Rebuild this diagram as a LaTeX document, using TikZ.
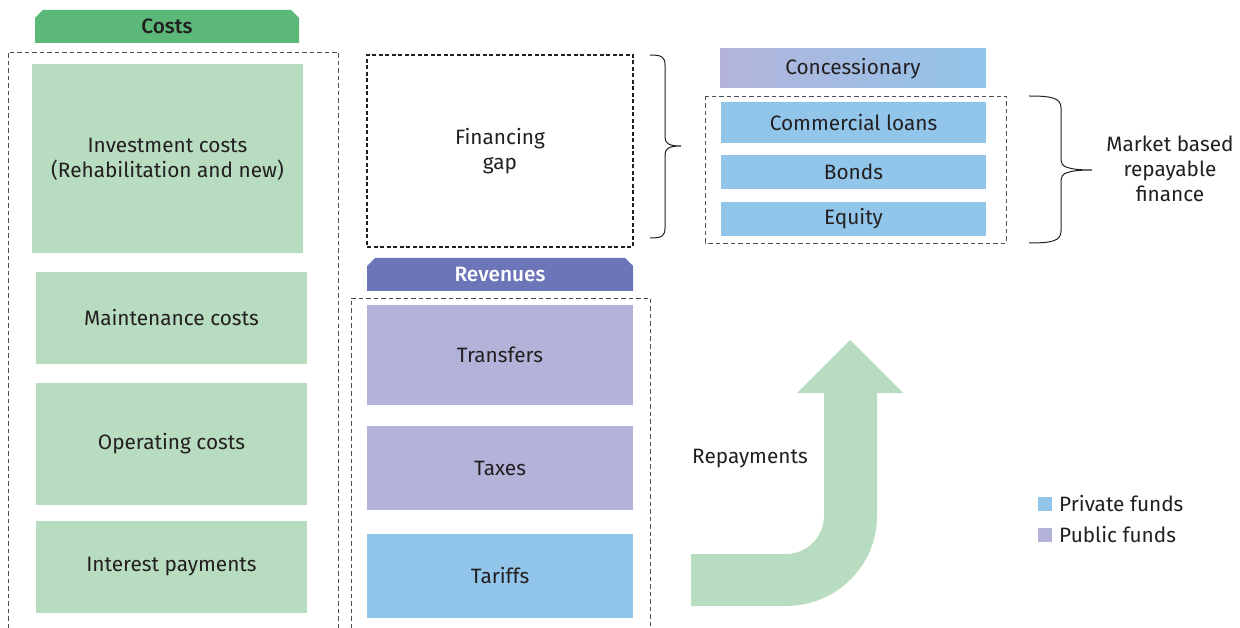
\documentclass[tikz,border=0pt]{standalone}
\usepackage{fontspec}
\setmainfont{Fira Sans}[BoldFont={Fira Sans Medium}]
\usetikzlibrary{shapes.misc}

\definecolor{tabgreen}{HTML}{5CB878}
\definecolor{lightgreen}{HTML}{B8DCBF}
\definecolor{tabpurple}{HTML}{6B75B8}
\definecolor{lavender}{HTML}{B3B3DA}
\definecolor{skyblue}{HTML}{92C5EA}
\definecolor{inkdark}{HTML}{231F20}

\tikzset{
    box/.style={inner sep=0, align=center, text=inkdark, font=\fontsize{20.8}{25}\selectfont},
    costbox/.style={box, fill=lightgreen, minimum width=271pt},
    revbox/.style={box, minimum width=266pt},
    finbox/.style={box, fill=skyblue, minimum width=265pt},
    tabbox/.style={chamfered rectangle, chamfered rectangle corners={north west,north east}, chamfered rectangle xsep=4pt, chamfered rectangle ysep=4pt, inner sep=0, font=\fontsize{20.8}{25}\selectfont\bfseries},
    frame/.style={dash pattern=on 4.5pt off 3pt, line width=0.8pt, draw=inkdark!80},
}

\begin{document}
\begin{tikzpicture}[x=1pt, y=-1pt]
    \useasboundingbox (0,0) rectangle (1240,628);

    % costs
    \node[tabbox, fill=tabgreen, text=inkdark, minimum width=264pt, minimum height=33pt] (coststab) at (167,26.5) {Costs};
    \draw[frame] (8,628) -- (8,52) -- (338,52) -- (338,628);
    \node[costbox, minimum height=189pt] (invest) at (167.5,159) {Investment costs\\(Rehabilitation and new)};
    \node[costbox, minimum height=92pt] (maint) at (171.5,318) {Maintenance costs};
    \node[costbox, minimum height=122pt] (oper) at (171.5,444) {Operating costs};
    \node[costbox, minimum height=92pt] (interest) at (171.5,567) {Interest payments};

    % financing gap
    \node[revbox, minimum height=192pt, draw=inkdark, line width=1.8pt, dash pattern=on 4pt off 2.5pt] (gap) at (500,151) {Financing\\gap};
    \draw[inkdark, line width=1pt] (650,55) .. controls (662,55) and (665,57) .. (665,65) -- (665,137) .. controls (665,143) and (668,146) .. (681,146) .. controls (668,146) and (665,149) .. (665,155) -- (665,228) .. controls (665,236) and (662,238) .. (650,238);

    % revenues
    \node[tabbox, fill=tabpurple, text=white, minimum width=266pt, minimum height=33pt] (revtab) at (500,274.5) {Revenues};
    \draw[frame] (351,628) -- (351,298) -- (650,298) -- (650,628);
    \node[revbox, fill=lavender, minimum height=100pt] (transfers) at (500,355) {Transfers};
    \node[revbox, fill=lavender, minimum height=84pt] (taxes) at (500,468) {Taxes};
    \node[revbox, fill=skyblue, minimum height=84pt] (tariffs) at (500,576) {Tariffs};

    % finance sources
    \node[revbox, left color=lavender, right color=skyblue, minimum height=39pt] (concess) at (853,68.5) {Concessionary};
    \draw[frame] (705,96) rectangle (1006,243);
    \node[finbox, minimum height=41pt] (loans) at (853.5,122.5) {Commercial loans};
    \node[finbox, minimum height=34pt] (bonds) at (853.5,172) {Bonds};
    \node[finbox, minimum height=34pt] (equity) at (853.5,219) {Equity};
    \draw[inkdark, line width=1pt] (1029,96) .. controls (1052,96) and (1061,98) .. (1061,108) -- (1061,160) .. controls (1061,166) and (1066,170) .. (1092,170) .. controls (1066,170) and (1061,174) .. (1061,180) -- (1061,231) .. controls (1061,241) and (1052,243) .. (1029,243);
    \node[box] (market) at (1170,169) {Market based\\repayable\\finance};

    % repayments arrow
    \fill[lightgreen] (691,606) -- (786,606) .. controls (836,606) and (877,566) .. (877,516) -- (877,393) -- (903,393) -- (850,340) -- (797,393) -- (824,393) -- (824,516) .. controls (824,537) and (807,554) .. (786,554) -- (691,554) -- cycle;
    \node[box] (repay) at (750,459) {Repayments};

    % legend
    \node[fill=skyblue, minimum size=14pt, inner sep=0] (privkey) at (1045,504) {};
    \node[box, anchor=west] (privtext) at (1059,504) {Private funds};
    \node[fill=lavender, minimum size=14pt, inner sep=0] (pubkey) at (1045,535) {};
    \node[box, anchor=west] (pubtext) at (1059,535) {Public funds};
\end{tikzpicture}
\end{document}
